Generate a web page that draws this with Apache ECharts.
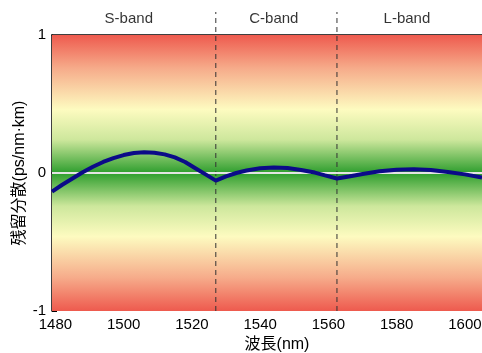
<!DOCTYPE html>
<html>
<head>
<meta charset="utf-8">
<script src="https://cdn.jsdelivr.net/npm/echarts@6/dist/echarts.min.js"></script>
<style>
  html, body { margin: 0; padding: 0; background: #fff; }
  #chart { width: 482px; height: 353px; }
</style>
</head>
<body>
<div id="chart"></div>
<script>
// 波長 (nm)
const wavelength = [1479, 1482, 1485, 1488, 1491, 1494, 1497, 1500, 1503, 1506, 1509, 1512, 1515, 1518, 1521, 1524, 1527,
  1530, 1533, 1536, 1540, 1544, 1548, 1552, 1556, 1559, 1562.5,
  1566, 1570, 1575, 1580, 1585, 1590, 1595, 1600, 1605]
// 残留分散 (ps/nm·km)
const dispersion = [-0.135, -0.085, -0.04, 0.005, 0.045, 0.08, 0.108, 0.13, 0.145, 0.15, 0.147, 0.135, 0.113, 0.08, 0.035, -0.01, -0.055,
  -0.025, 0.0, 0.018, 0.034, 0.04, 0.036, 0.022, 0.003, -0.017, -0.04,
  -0.025, -0.007, 0.012, 0.024, 0.027, 0.022, 0.008, -0.01, -0.032]

const bandEdges = [1527, 1562.5]
const bandNames = ['S-band', 'C-band', 'L-band']
const bandLabelX = [1501.5, 1544, 1583]
const xTicks = [1480, 1500, 1520, 1540, 1560, 1580, 1600]
const yTicks = [-1, 0, 1]

const FONT = "'Liberation Sans', 'Noto Sans CJK JP', sans-serif"

const chart = echarts.init(document.getElementById('chart'))

const bgGradient = new echarts.graphic.LinearGradient(0, 0, 0, 1, [
  { offset: 0, color: '#ee5a4e' },
  { offset: 0.12, color: '#f6ab8a' },
  { offset: 0.27, color: '#fdfbc0' },
  { offset: 0.38, color: '#cde79c' },
  { offset: 0.5, color: '#2e9e2e' },
  { offset: 0.62, color: '#cde79c' },
  { offset: 0.73, color: '#fdfbc0' },
  { offset: 0.88, color: '#f6ab8a' },
  { offset: 1, color: '#ee5a4e' }
])

const option = {
  animation: false,
  grid: { left: 52, right: 0, top: 35, bottom: 42, outerBoundsMode: 'none' },
  xAxis: [
    {
      type: 'value',
      min: 1479,
      max: 1605,
      interval: 20,
      name: '波長(nm)',
      nameLocation: 'middle',
      nameGap: 26,
      nameTextStyle: { fontFamily: FONT, fontSize: 16, color: '#000', padding: [0, 0, 0, 20] },
      axisLine: { lineStyle: { color: '#000', width: 1.5 } },
      axisTick: { inside: true, length: 5, lineStyle: { color: '#000' }, customValues: xTicks },
      axisLabel: {
        fontFamily: FONT, fontSize: 15, color: '#000', margin: 6,
        customValues: xTicks, formatter: v => String(v)
      },
      splitLine: { show: false }
    },
    {
      type: 'value',
      position: 'top',
      min: 1479,
      max: 1605,
      axisLine: { show: true, lineStyle: { color: '#000', width: 1.5 } },
      axisTick: { show: false },
      axisLabel: { show: false },
      splitLine: { show: false }
    }
  ],
  yAxis: {
    type: 'value',
    min: -1,
    max: 1,
    interval: 1,
    name: '残留分散(ps/nm·km)',
    nameLocation: 'middle',
    nameGap: 24,
    nameMoveOverlap: false,
    nameTextStyle: { fontFamily: FONT, fontSize: 16, color: '#000' },
    axisLine: { show: true, lineStyle: { color: '#000', width: 1.5 } },
    axisTick: { show: true, inside: true, length: 5, lineStyle: { color: '#000' } },
    axisLabel: { fontFamily: FONT, fontSize: 15, color: '#000', margin: 6, customValues: yTicks },
    splitLine: { show: false }
  },
  series: [
    {
      // 背景のグラデーション
      type: 'line',
      data: [],
      z: 0,
      silent: true,
      markArea: {
        silent: true,
        itemStyle: { color: bgGradient },
        data: [[{ xAxis: 1479, yAxis: 1 }, { xAxis: 1605, yAxis: -1 }]]
      },
      markLine: {
        silent: true,
        symbol: 'none',
        label: { show: false },
        lineStyle: { color: '#e4e4e4', width: 2, type: 'solid' },
        data: [{ yAxis: 0 }]
      }
    },
    {
      // バンド境界
      type: 'custom',
      z: 3,
      clip: false,
      silent: true,
      data: bandEdges.map(x => [x]),
      renderItem: (params, api) => {
        const p0 = api.coord([api.value(0), -1])
        const p1 = api.coord([api.value(0), 1])
        return {
          type: 'line',
          shape: { x1: p0[0], y1: p0[1], x2: p1[0], y2: p1[1] - 23 },
          style: { stroke: '#333', lineWidth: 1, lineDash: [5, 4] }
        }
      }
    },
    {
      // バンド名
      type: 'scatter',
      z: 4,
      clip: false,
      silent: true,
      symbolSize: 0,
      data: bandLabelX.map((x, i) => [x, 1, bandNames[i]]),
      label: {
        show: true,
        position: 'top',
        distance: 9,
        fontFamily: FONT,
        fontSize: 15,
        color: '#000',
        formatter: p => p.value[2]
      }
    },
    {
      type: 'line',
      z: 5,
      data: wavelength.map((x, i) => [x, dispersion[i]]),
      showSymbol: false,
      smooth: false,
      lineStyle: { color: '#0b0b88', width: 4 }
    }
  ]
}

chart.setOption(option)
</script>
</body>
</html>
